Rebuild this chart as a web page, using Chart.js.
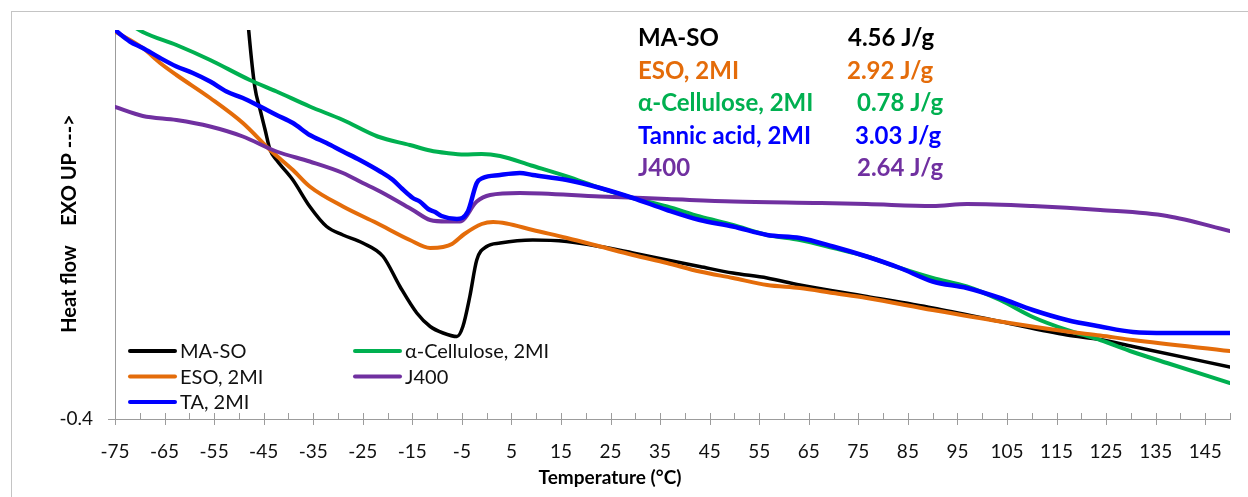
<!DOCTYPE html>
<html>
<head>
<meta charset="utf-8">
<script src="https://cdn.jsdelivr.net/npm/chart.js@4.4.1/dist/chart.umd.min.js"></script>
<style>
    html, body {margin: 0; padding: 0; background: #fff;}
    #wrap {position: relative; width: 1248px; height: 497px; overflow: hidden;}
    #frame {position: absolute; left: 11px; top: 11px; width: 1260px; height: 520px; border: 1px solid #c4c4c4;}
    canvas {position: absolute; left: 0; top: 0;}
</style>
</head>
<body>
<div id="wrap">
    <div id="frame"></div>
    <canvas id="chart" width="1248" height="497"></canvas>
</div>
<script>
// DSC curves, heat flow in arbitrary units (only -0.4 is labelled on the axis)
const maSoTemp = [-48.6, -48.0, -46.8, -45.7, -44.7, -43.7, -42.4, -39.1, -35.7, -32.3, -29.0, -25.0, -20.9, -17.5, -14.1, -11.4, -8.8, -6.0, -4.8, -3.4, -2.0, 0.0, 2.7, 9.3, 16.2, 22.9, 29.5, 36.4, 43.0, 49.7, 56.6, 63.2, 76.7, 90.0, 103.6, 117.1, 123.8, 130.4, 150]
const maSoFlow = [0.45, 0.375, 0.265, 0.218, 0.178, 0.138, 0.118, 0.078, 0.025, -0.015, -0.032, -0.048, -0.075, -0.135, -0.188, -0.215, -0.228, -0.235, -0.215, -0.155, -0.082, -0.055, -0.048, -0.042, -0.045, -0.055, -0.068, -0.082, -0.095, -0.108, -0.118, -0.132, -0.155, -0.178, -0.205, -0.232, -0.241, -0.255, -0.296]

const esoTemp = [-75, -69.4, -65.9, -62.6, -55.8, -49.2, -43.7, -39.1, -35.7, -29.0, -22.2, -15.5, -11.4, -8.8, -7.0, -4.5, -1.0, 1.3, 4.0, 9.3, 16.2, 22.9, 29.5, 36.4, 43.0, 49.7, 56.6, 63.2, 69.9, 76.7, 90.0, 103.6, 117.1, 123.8, 130.4, 150]
const esoFlow = [0.375, 0.342, 0.312, 0.288, 0.242, 0.192, 0.138, 0.098, 0.065, 0.025, -0.008, -0.042, -0.058, -0.056, -0.050, -0.030, -0.010, -0.006, -0.009, -0.022, -0.038, -0.055, -0.072, -0.088, -0.105, -0.118, -0.132, -0.138, -0.148, -0.158, -0.182, -0.205, -0.225, -0.233, -0.242, -0.264]

const celTemp = [-75, -69.4, -62.6, -55.8, -47.8, -42.4, -35.7, -29.0, -22.0, -15.5, -11.4, -8.1, -4.5, -1.0, 2.7, 9.0, 16.2, 22.9, 29.5, 36.4, 43.0, 49.7, 56.6, 63.2, 70.0, 76.7, 83.4, 90.0, 96.9, 103.6, 110.2, 117.1, 123.8, 130.4, 137.3, 150]
const celFlow = [0.41, 0.374, 0.348, 0.318, 0.278, 0.255, 0.225, 0.198, 0.165, 0.148, 0.137, 0.132, 0.129, 0.130, 0.126, 0.107, 0.085, 0.062, 0.042, 0.025, 0.005, -0.012, -0.032, -0.042, -0.058, -0.075, -0.098, -0.118, -0.135, -0.162, -0.196, -0.222, -0.242, -0.266, -0.288, -0.328]

const taTemp = [-75, -72.0, -69.4, -65.9, -62.6, -59.3, -55.8, -52.5, -49.2, -45.7, -42.4, -39.1, -35.7, -32.3, -29.0, -25.6, -21.5, -18.9, -17.0, -14.9, -13.5, -11.8, -10.4, -9.1, -6.0, -3.8, -2.0, -0.8, 2.7, 6.7, 9.3, 16.2, 22.9, 29.5, 36.4, 43.0, 49.7, 56.6, 63.2, 69.9, 76.7, 83.4, 90.0, 96.9, 103.6, 110.2, 117.1, 123.8, 130.4, 137.3, 150]
const taFlow = [0.378, 0.355, 0.342, 0.322, 0.305, 0.292, 0.275, 0.255, 0.242, 0.225, 0.208, 0.192, 0.168, 0.152, 0.135, 0.118, 0.095, 0.078, 0.060, 0.042, 0.035, 0.020, 0.014, 0.006, 0.000, 0.015, 0.072, 0.082, 0.088, 0.092, 0.088, 0.078, 0.062, 0.042, 0.018, -0.002, -0.015, -0.032, -0.038, -0.055, -0.075, -0.098, -0.125, -0.138, -0.158, -0.182, -0.202, -0.215, -0.226, -0.228, -0.228]

const j400Temp = [-75, -69.4, -62.6, -55.8, -49.2, -42.4, -35.7, -29.0, -25.0, -21.5, -14.9, -11.4, -8.1, -5.4, -2.0, 0.7, 6.7, 22.9, 36.4, 49.7, 67.3, 76.7, 90.0, 96.9, 110.2, 123.8, 137.3, 150]
const j400Flow = [0.224, 0.206, 0.198, 0.185, 0.165, 0.135, 0.115, 0.092, 0.072, 0.055, 0.018, -0.002, -0.005, -0.005, 0.035, 0.048, 0.052, 0.045, 0.040, 0.035, 0.032, 0.030, 0.026, 0.030, 0.026, 0.018, 0.006, -0.024]

const tempTicks = [-75, -65, -55, -45, -35, -25, -15, -5, 5, 15, 25, 35, 45, 55, 65, 75, 85, 95, 105, 115, 125, 135, 145]
const flowTicks = [-0.4]

const seriesNames = ["MA-SO", "ESO, 2MI", "TA, 2MI", "α-Cellulose, 2MI", "J400"]
const enthalpyNames = ["MA-SO", "ESO, 2MI", "α-Cellulose, 2MI", "Tannic acid, 2MI", "J400"]
const enthalpyValues = ["4.56 J/g", "2.92 J/g", "0.78 J/g", "3.03 J/g", "2.64 J/g"]

const colors = ["#000000", "#E46C0A", "#0000FF", "#00B050", "#7030A0"]
const enthalpyColors = ["#000000", "#E46C0A", "#00B050", "#0000FF", "#7030A0"]
const axisGray = "#9c9c9c"
const FONT = "Lato, 'Open Sans', sans-serif"

const zip = (t, v) => t.map((x, i) => ({x, y: v[i]}))

function line(label, t, v, color, width, order) {
    return {
        label, data: zip(t, v), borderColor: color, backgroundColor: color,
        borderWidth: width, pointRadius: 0, cubicInterpolationMode: "monotone",
        order, borderCapStyle: "round", borderJoinStyle: "round"
    }
}

const datasets = [
    line(seriesNames[0], maSoTemp, maSoFlow, colors[0], 3.5, 4),
    line(seriesNames[1], esoTemp, esoFlow, colors[1], 4, 2),
    line(seriesNames[2], taTemp, taFlow, colors[2], 4.5, 0),
    line(seriesNames[3], celTemp, celFlow, colors[3], 4, 3),
    line(seriesNames[4], j400Temp, j400Flow, colors[4], 4, 1),
]

// legend in two columns, bottom left inside the plot
const legendSlots = [[0, 0], [0, 1], [0, 2], [1, 0], [1, 1]]

const decor = {
    id: "decor",
    afterDraw(chart) {
        const {ctx, chartArea: a, scales: {x}} = chart
        ctx.save()

        // x tick marks: majors cross the axis, minors inside
        ctx.strokeStyle = axisGray
        ctx.lineWidth = 1
        for (let v = -75; v <= 150; v += 5) {
            const px = Math.round(x.getPixelForValue(v)) + 0.5
            const major = tempTicks.includes(v)
            ctx.beginPath()
            ctx.moveTo(px, a.bottom - 6)
            ctx.lineTo(px, a.bottom + (major ? 6 : 0))
            ctx.stroke()
        }

        // legend
        ctx.font = "20px " + FONT
        ctx.textBaseline = "middle"
        ctx.textAlign = "left"
        legendSlots.forEach(([col, row], i) => {
            const lx = a.left + 15 + col * 225
            const ly = a.bottom - 68 + row * 25.5
            ctx.strokeStyle = colors[i]
            ctx.lineWidth = 4
            ctx.lineCap = "round"
            ctx.beginPath()
            ctx.moveTo(lx, ly)
            ctx.lineTo(lx + 45, ly)
            ctx.stroke()
            ctx.fillStyle = "#111"
            ctx.fillText(seriesNames[i], lx + 50, ly + 1)
        })

        // enthalpy table
        const valueX = [848, 847, 857, 855, 857]
        ctx.font = "bold 24px " + FONT
        ctx.textBaseline = "alphabetic"
        enthalpyNames.forEach((n, i) => {
            ctx.fillStyle = enthalpyColors[i]
            const by = 46 + i * 32.5
            ctx.fillText(n, 638, by)
            ctx.fillText(enthalpyValues[i], valueX[i], by)
        })

        // axis titles
        ctx.fillStyle = "#000"
        ctx.font = "bold 19px " + FONT
        ctx.textAlign = "center"
        ctx.textBaseline = "middle"
        ctx.fillText("Temperature (°C)", 610, 478)
        ctx.font = "bold 20px " + FONT
        ctx.translate(70, 0)
        ctx.rotate(-Math.PI / 2)
        ctx.fillText("Heat flow", -289, 0)
        ctx.fillText("EXO UP --->", -170, 0)
        ctx.restore()
    }
}

new Chart(document.getElementById("chart"), {
    type: "line",
    data: {datasets},
    plugins: [decor],
    options: {
        responsive: false,
        animation: false,
        devicePixelRatio: 1,
        layout: {padding: {left: 0, right: 18, top: 30, bottom: 0}},
        plugins: {legend: {display: false}, tooltip: {enabled: false}},
        scales: {
            x: {
                type: "linear", min: -75, max: 150,
                afterBuildTicks: s => { s.ticks = tempTicks.map(value => ({value})) },
                afterFit: s => { s.height = 78 },
                grid: {display: false, drawTicks: false},
                border: {display: true, color: axisGray, width: 1},
                ticks: {autoSkip: false, maxRotation: 0, padding: 21, color: "#111", font: {family: FONT, size: 19}}
            },
            y: {
                type: "linear", min: -0.4, max: 0.378,
                afterBuildTicks: s => { s.ticks = flowTicks.map(value => ({value})) },
                afterFit: s => { s.width = 115 },
                grid: {drawOnChartArea: false, drawTicks: true, tickLength: 7, color: axisGray},
                border: {display: true, color: axisGray, width: 1},
                ticks: {padding: 15, color: "#111", font: {family: FONT, size: 19}, callback: v => String(v)}
            }
        }
    }
})
</script>
</body>
</html>
